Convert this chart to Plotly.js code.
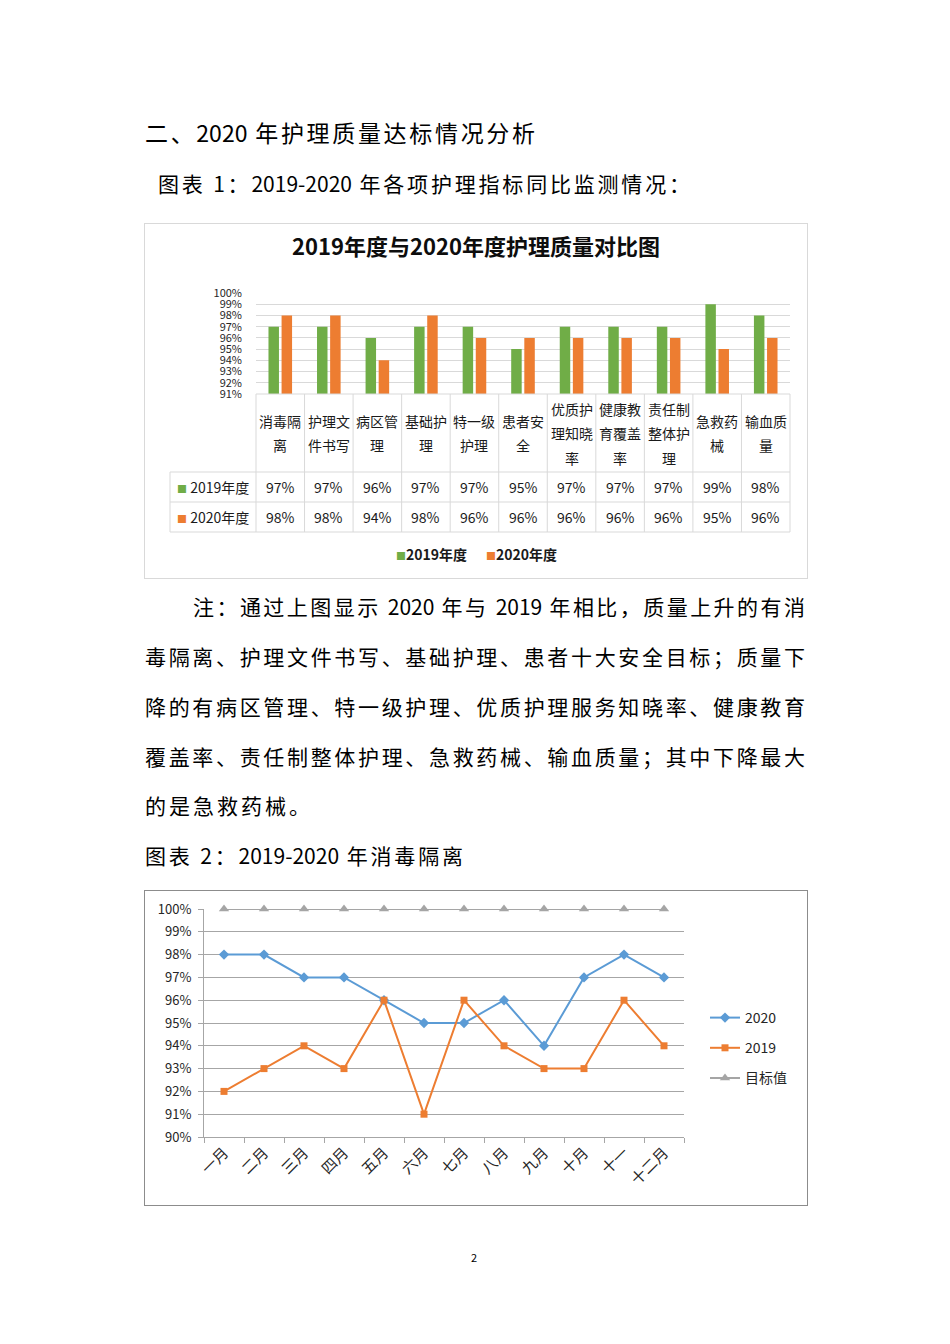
<!DOCTYPE html>
<html>
<head>
<meta charset="utf-8">
<script src="https://cdn.plot.ly/plotly-3.0.1.min.js"></script>
<style>
  html, body { margin: 0; padding: 0; background: #fff; }
  #page { position: relative; width: 950px; height: 1344px; overflow: hidden;
          font-family: 'Noto Sans CJK SC', 'Noto Sans', sans-serif; color: #000; }
  .t { position: absolute; line-height: 1; font-size: 21px; text-align: justify; text-align-last: justify; }
  .frame { position: absolute; box-sizing: border-box; pointer-events: none; }
  .chart { position: absolute; }
</style>
</head>
<body>
<div id="page">
  <div class="t" style="left:145px;top:121px;width:390px;font-size:23px;">二、2020 年护理质量达标情况分析</div>
  <div class="t" style="left:158px;top:173px;width:532px;">图表 1：2019-2020 年各项护理指标同比监测情况：</div>

  <div id="chart1" class="chart" style="left:144px;top:223px;width:664px;height:356px;"></div>
  <div class="frame" style="left:144px;top:223px;width:664px;height:356px;border:1px solid #d9d9d9;"></div>

  <div class="t" style="left:193px;top:596px;width:612px;">注：通过上图显示 2020 年与 2019 年相比，质量上升的有消</div>
  <div class="t" style="left:145px;top:646px;width:660px;">毒隔离、护理文件书写、基础护理、患者十大安全目标；质量下</div>
  <div class="t" style="left:145px;top:696px;width:660px;">降的有病区管理、特一级护理、优质护理服务知晓率、健康教育</div>
  <div class="t" style="left:145px;top:746px;width:660px;">覆盖率、责任制整体护理、急救药械、输血质量；其中下降最大</div>
  <div class="t" style="left:145px;top:795px;text-align:left;text-align-last:left;letter-spacing:3px;">的是急救药械。</div>
  <div class="t" style="left:145px;top:845px;width:318px;">图表 2：2019-2020 年消毒隔离</div>

  <div id="chart2" class="chart" style="left:144px;top:890px;width:664px;height:316px;"></div>
  <div class="frame" style="left:144px;top:890px;width:664px;height:316px;border:1px solid #8c8c8c;"></div>

  <div class="t" style="left:471px;top:1252px;font-size:11px;text-align:left;text-align-last:left;">2</div>
</div>

<script>
// ---- chart 1 data: 2019 vs 2020 nursing quality ----
const categories = ["消毒隔离", "护理文件书写", "病区管理", "基础护理", "特一级护理", "患者安全",
                    "优质护理知晓率", "健康教育覆盖率", "责任制整体护理", "急救药械", "输血质量"];
const values2019 = [97, 97, 96, 97, 97, 95, 97, 97, 97, 99, 98];
const values2020 = [98, 98, 94, 98, 96, 96, 96, 96, 96, 95, 96];
const seriesNames = ["2019年度", "2020年度"];

// ---- chart 2 data: monthly disinfection/isolation ----
const months = ["一月", "二月", "三月", "四月", "五月", "六月", "七月", "八月", "九月", "十月", "十一", "十二月"];
const monthly2020 = [98, 98, 97, 97, 96, 95, 95, 96, 94, 97, 98, 97];
const monthly2019 = [92, 93, 94, 93, 96, 91, 96, 94, 93, 93, 96, 94];
const target = [100, 100, 100, 100, 100, 100, 100, 100, 100, 100, 100, 100];

const FONT = "'Noto Sans CJK SC', 'Noto Sans', sans-serif";
const GREEN = "#70AD47", ORANGE = "#ED7D31", BLUE = "#5B9BD5", GREY = "#A5A5A5";

function renderComparisonChart() {
  // plot area inside the 664x356 chart box
  const plotL = 112, plotT = 70, plotW = 534, plotH = 101;
  const px = x => (x - plotL) / plotW;           // chart-box pixel -> paper x
  const py = y => (plotT + plotH - y) / plotH;   // chart-box pixel -> paper y

  const tableTop = 171, headBottom = 249, row1Bottom = 279, row2Bottom = 309, tableLeft = 26;
  const lineColor = "#d9d9d9";
  const textColor = "#1a1a1a";

  const traces = [
    { type: "bar", name: seriesNames[0], x: categories, y: values2019,
      marker: { color: GREEN }, showlegend: false, hoverinfo: "none" },
    { type: "bar", name: seriesNames[1], x: categories, y: values2020,
      marker: { color: ORANGE }, showlegend: false, hoverinfo: "none" }
  ];

  const shapes = [];
  const line = (x0, y0, x1, y1) => ({
    type: "line", xref: "paper", yref: "paper", x0, y0, x1, y1,
    line: { color: lineColor, width: 1 }, layer: "above"
  });
  // data-table grid
  shapes.push(line(0, py(tableTop), 1, py(tableTop)));
  [headBottom, row1Bottom, row2Bottom].forEach(y => shapes.push(line(px(tableLeft), py(y), 1, py(y))));
  for (let i = 0; i <= categories.length; i++) {
    const x = i / categories.length;
    shapes.push(line(x, py(tableTop), x, py(row2Bottom)));
  }
  shapes.push(line(px(tableLeft), py(headBottom), px(tableLeft), py(row2Bottom)));

  const annotations = [];
  const cell = (x, xref, y, text, extra = {}) => Object.assign({
    x, xref, y: py(y), yref: "paper", text, showarrow: false,
    xanchor: "center", yanchor: "middle", font: { size: 14, color: textColor }
  }, extra);

  const headMid = (tableTop + headBottom) / 2;
  const lineGap = 24.5;
  const row1Mid = (headBottom + row1Bottom) / 2, row2Mid = (row1Bottom + row2Bottom) / 2;
  categories.forEach((name, i) => {
    const parts = name.match(/.{1,3}/g); // 3 characters per line, as in the table
    parts.forEach((p, j) => {
      annotations.push(cell(name, "x", headMid + (j - (parts.length - 1) / 2) * lineGap, p));
    });
    annotations.push(cell(name, "x", row1Mid, values2019[i] + "%"));
    annotations.push(cell(name, "x", row2Mid, values2020[i] + "%"));
  });
  // row headers with colour keys
  [[GREEN, seriesNames[0], row1Mid], [ORANGE, seriesNames[1], row2Mid]].forEach(([c, label, y]) => {
    annotations.push(cell(px(31), "paper", y,
      `<span style="color:${c};font-size:10px">■</span> ${label}`, { xanchor: "left" }));
  });
  // bottom legend
  annotations.push(cell(px(332), "paper", 331,
    `<span style="color:${GREEN};font-size:10px">■</span><b>${seriesNames[0]}</b>      ` +
    `<span style="color:${ORANGE};font-size:10px">■</span><b>${seriesNames[1]}</b>`));

  const layout = {
    width: 664, height: 356,
    margin: { l: plotL, r: 664 - plotL - plotW, t: plotT, b: 356 - plotT - plotH },
    paper_bgcolor: "#fff", plot_bgcolor: "#fff",
    font: { family: FONT, color: "#262626" },
    title: {
      text: "<b>2019年度与2020年度护理质量对比图</b>",
      x: 0.5, xref: "container", y: 1 - 24 / 356, yref: "container", yanchor: "middle",
      font: { size: 22, color: "#0d0d0d" }
    },
    barmode: "group", bargap: 0.46, bargroupgap: 0.2,
    xaxis: { type: "category", range: [-0.5, categories.length - 0.5], showticklabels: false,
             showgrid: false, showline: false, zeroline: false, fixedrange: true },
    yaxis: { range: [91, 100], dtick: 1, ticksuffix: "%", gridcolor: lineColor, gridwidth: 1,
             showline: false, zeroline: false, ticks: "", ticklabelstandoff: 13,
             tickfont: { size: 11, color: "#262626" }, fixedrange: true },
    showlegend: false,
    shapes, annotations
  };

  Plotly.newPlot("chart1", traces, layout, { displayModeBar: false, staticPlot: true });
}

function renderMonthlyChart() {
  const marker = (symbol, color, size) => ({ symbol, color, size, line: { width: 0 } });
  const traces = [
    { type: "scatter", mode: "lines+markers", name: "2020", x: months, y: monthly2020,
      line: { color: BLUE, width: 2 }, marker: marker("diamond", BLUE, 8), legendgroup: "a", cliponaxis: false },
    { type: "scatter", mode: "lines+markers", name: "2019", x: months, y: monthly2019,
      line: { color: ORANGE, width: 2 }, marker: marker("square", ORANGE, 7), legendgroup: "b", cliponaxis: false },
    { type: "scatter", mode: "lines+markers", name: "目标值", x: months, y: target,
      line: { color: GREY, width: 2 }, marker: marker("triangle-up", GREY, 9), legendgroup: "c", cliponaxis: false }
  ];

  const plotL = 60, plotT = 19, plotW = 480, plotH = 228;
  const axisColor = "#a6a6a6";
  const layout = {
    width: 664, height: 316,
    margin: { l: plotL, r: 664 - plotL - plotW, t: plotT, b: 316 - plotT - plotH },
    paper_bgcolor: "#fff", plot_bgcolor: "#fff",
    font: { family: FONT, color: "#262626" },
    xaxis: { type: "category", range: [-0.5, months.length - 0.5], tickangle: -45,
             ticks: "outside", tickson: "boundaries", ticklen: 5, tickcolor: axisColor,
             showline: true, linecolor: axisColor, showgrid: false, zeroline: false,
             tickfont: { size: 15, color: "#262626" }, fixedrange: true },
    yaxis: { range: [90, 100], dtick: 1, ticksuffix: "%", gridcolor: axisColor,
             showline: true, linecolor: axisColor, ticks: "outside", ticklen: 5, tickcolor: axisColor,
             zeroline: false, ticklabelstandoff: 4, tickfont: { size: 13, color: "#262626" }, fixedrange: true },
    legend: { x: (705 - 204) / plotW, xanchor: "left", y: (1137 - 1048) / plotH, yanchor: "middle",
              tracegroupgap: 9, font: { size: 14, color: "#262626" }, bgcolor: "rgba(0,0,0,0)" },
    showlegend: true
  };

  Plotly.newPlot("chart2", traces, layout, { displayModeBar: false, staticPlot: true });
}

renderComparisonChart();
renderMonthlyChart();
</script>
</body>
</html>
